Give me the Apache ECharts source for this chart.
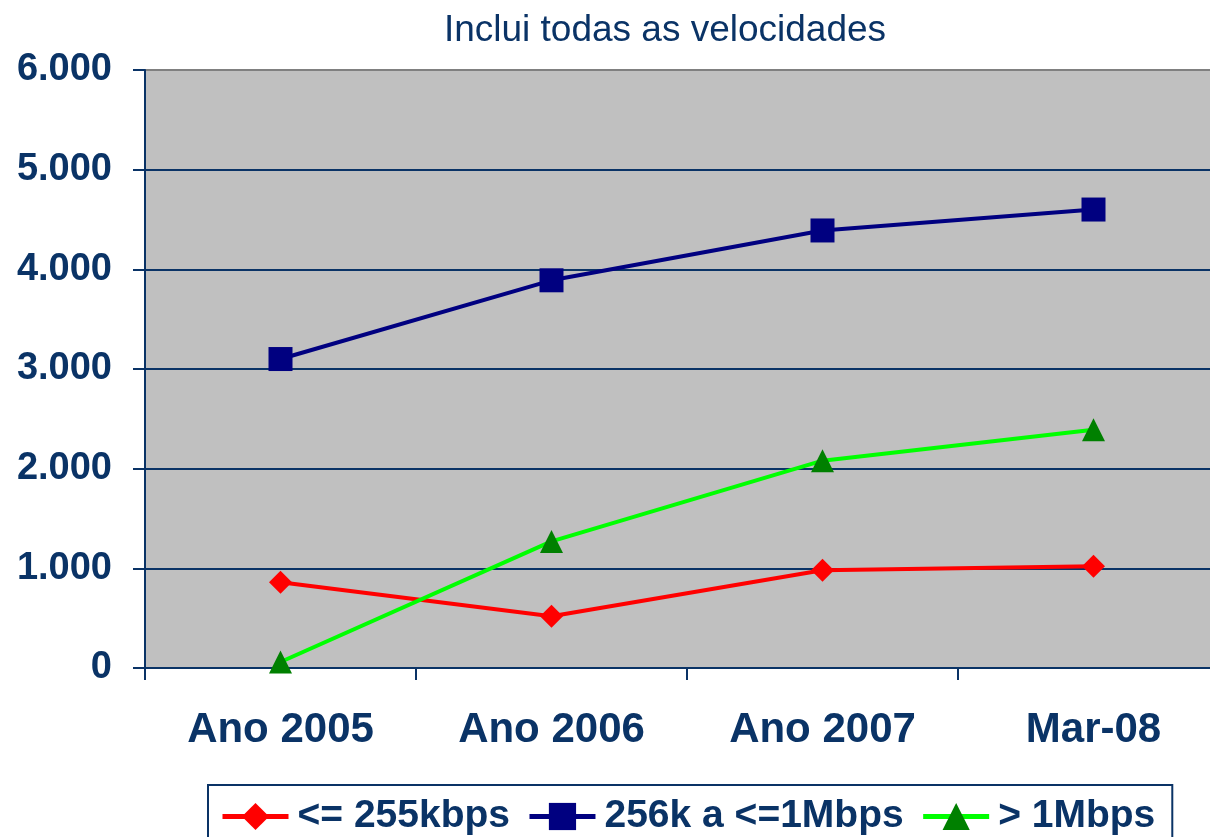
<!DOCTYPE html>
<html>
<head>
<meta charset="utf-8">
<script src="https://cdn.jsdelivr.net/npm/echarts@6/dist/echarts.min.js"></script>
<style>
  html, body { margin: 0; padding: 0; background: #fff; overflow: hidden; }
  #container { width: 1230px; height: 837px; }
</style>
</head>
<body>
<div id="container"></div>
<script>
// categorias e valores
const categories = ['Ano 2005', 'Ano 2006', 'Ano 2007', 'Mar-08']
const ate255k = [860, 520, 980, 1020]
const de256kA1M = [3100, 3890, 4390, 4600]
const acima1M = [60, 1270, 2080, 2390]
const seriesNames = ['<= 255kbps', '256k a <=1Mbps', '> 1Mbps']

const navy = '#0a3366'
const fmt = v => v === 0 ? '0' : (v / 1000).toFixed(3)

// o gráfico original é cortado à direita: o div é mais largo que a janela
let mychart = echarts.init(document.getElementById('container'))

let options = {
    animation: false,
    title: {
        text: 'Inclui todas as velocidades',
        left: 660,
        textAlign: 'center',
        top: 7,
        textStyle: {
            color: navy,
            fontSize: 37,
            fontWeight: 'normal',
            fontFamily: 'Liberation Sans'
        }
    },
    legend: {
        left: 208,
        top: 785,
        padding: [12, 17, 20, 12],
        itemGap: 17,
        itemWidth: 66,
        itemHeight: 34,
        borderColor: navy,
        borderWidth: 2,
        lineStyle: { width: 5 },
        textStyle: {
            color: navy,
            fontSize: 39,
            fontWeight: 'bold',
            fontFamily: 'Liberation Sans',
            padding: [0, 0, 0, 4]
        },
        data: seriesNames
    },
    grid: {
        left: 145,
        top: 70,
        bottom: 169,
        width: 1084,
        show: true,
        backgroundColor: '#c0c0c0',
        borderWidth: 0
    },
    xAxis: {
        type: 'category',
        data: categories,
        boundaryGap: true,
        axisLine: { lineStyle: { color: navy, width: 2 } },
        axisTick: { show: true, interval: 0, length: 12, lineStyle: { color: navy, width: 2 } },
        axisLabel: {
            color: navy,
            fontSize: 42,
            fontWeight: 'bold',
            fontFamily: 'Liberation Sans',
            margin: 41,
            interval: 0
        }
    },
    yAxis: {
        type: 'value',
        min: 0,
        max: 6000,
        interval: 1000,
        axisLine: { show: true, lineStyle: { color: navy, width: 2 } },
        axisTick: { show: true, length: 12, lineStyle: { color: navy, width: 2 } },
        splitLine: {
            lineStyle: {
                color: [navy, navy, navy, navy, navy, navy, '#808080'],
                width: 2
            }
        },
        axisLabel: {
            color: navy,
            fontSize: 38,
            fontWeight: 'bold',
            fontFamily: 'Liberation Sans',
            margin: 33,
            formatter: fmt
        }
    },
    series: [
        {
            name: seriesNames[0],
            type: 'line',
            data: ate255k,
            symbol: 'diamond',
            symbolSize: 23,
            lineStyle: { color: '#ff0000', width: 4 },
            itemStyle: { color: '#ff0000' }
        },
        {
            name: seriesNames[1],
            type: 'line',
            data: de256kA1M,
            symbol: 'rect',
            symbolSize: 24,
            lineStyle: { color: '#000080', width: 4 },
            itemStyle: { color: '#000080' }
        },
        {
            name: seriesNames[2],
            type: 'line',
            data: acima1M,
            symbol: 'triangle',
            symbolSize: 23,
            lineStyle: { color: '#00ff00', width: 4 },
            itemStyle: { color: '#008000' }
        }
    ]
}

mychart.setOption(options)
window.addEventListener('resize', () => { mychart.resize() })
</script>
</body>
</html>
